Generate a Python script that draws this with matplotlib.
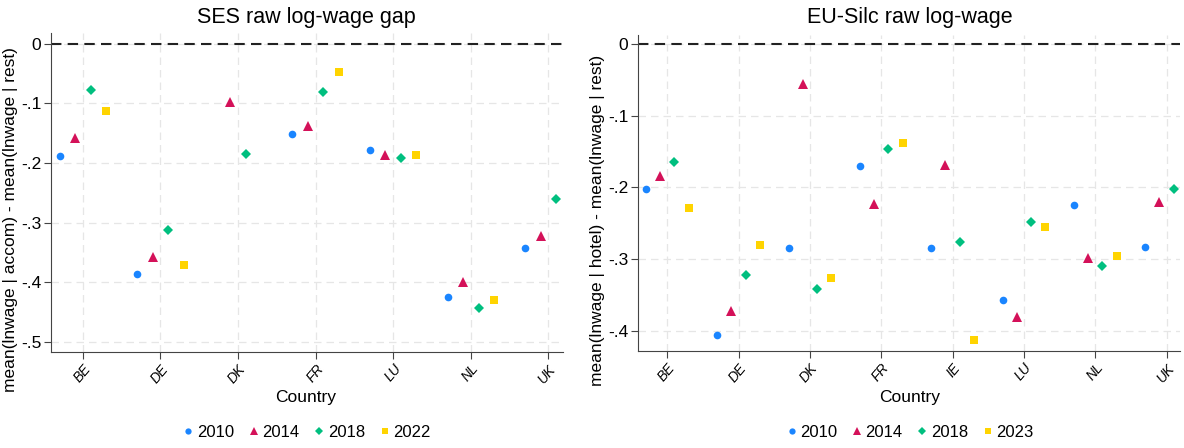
import numpy as np
import matplotlib.pyplot as plt
from matplotlib.lines import Line2D

plt.rcParams['font.family'] = ['Liberation Sans', 'DejaVu Sans']

# SES panel
ses_countries = ["BE", "DE", "DK", "FR", "LU", "NL", "UK"]
ses_years = ["2010", "2014", "2018", "2022"]
ses_2010 = [-0.188, -0.387, np.nan, -0.152, -0.179, -0.424, -0.343]
ses_2014 = [-0.158, -0.357, -0.098, -0.138, -0.186, -0.400, -0.323]
ses_2018 = [-0.077, -0.313, -0.185, -0.081, -0.191, -0.444, -0.261]
ses_2022 = [-0.113, -0.371, np.nan, -0.047, -0.187, -0.429, np.nan]

# EU-SILC panel
silc_countries = ["BE", "DE", "DK", "FR", "IE", "LU", "NL", "UK"]
silc_years = ["2010", "2014", "2018", "2023"]
silc_2010 = [-0.202, -0.405, -0.284, -0.170, -0.284, -0.357, -0.224, -0.283]
silc_2014 = [-0.184, -0.372, -0.056, -0.223, -0.168, -0.380, -0.298, -0.220]
silc_2018 = [-0.165, -0.322, -0.342, -0.147, -0.276, -0.248, -0.309, -0.202]
silc_2023 = [-0.228, -0.280, -0.326, -0.138, -0.413, -0.255, -0.296, np.nan]

colors = ["#1a85ff", "#d41159", "#00bf7f", "#ffd400"]
markers = ["o", "^", "D", "s"]
sizes = [5.5, 6.5, 5.5, 5.5]
offsets = [-0.3, -0.1, 0.1, 0.3]


def draw_panel(fig, ax, countries, series, years, title, ylabel, yticks, ylim,
               title_x, ylabel_x, legend_x):
    x = np.arange(len(countries))
    for v in x:
        ax.axvline(v, color="#e6e6e6", lw=0.9, ls=(0, (6, 4)), zorder=0)
    for t in yticks:
        ax.axhline(t, color="#e6e6e6", lw=0.9, ls=(0, (6, 4)), zorder=0)
    ax.axhline(0, color="#222222", lw=1.5, ls=(0, (5, 3)), zorder=1)
    for vals, c, m, s, off in zip(series, colors, markers, sizes, offsets):
        ax.plot(x + off, vals, ls="none", marker=m, color=c, ms=s,
                markeredgewidth=0, zorder=3)
    ax.set_xticks(x)
    ax.set_xticklabels(countries, rotation=50, ha="right", rotation_mode="anchor",
                       fontsize=10, fontstyle="italic")
    ax.set_yticks(yticks)
    ax.set_yticklabels(["0" if t == 0 else ("-" + ("%.1f" % abs(t))[1:]) for t in yticks],
                       fontsize=12.5)
    ax.set_xlim(-0.41, len(countries) - 1 + 0.19)
    ax.set_ylim(*ylim)
    ax.spines["top"].set_visible(False)
    ax.spines["right"].set_visible(False)
    ax.spines["left"].set_color("#444444")
    ax.spines["bottom"].set_color("#444444")
    ax.tick_params(axis="both", colors="#444444", labelcolor="black", length=5)
    ax.tick_params(axis="y", pad=2)
    ax.tick_params(axis="x", pad=2)

    fig.text(title_x, 1 - 17 / 448, title, fontsize=15.5, ha="center", va="center")
    fig.text(title_x, 1 - 397 / 448, "Country", fontsize=12.5, ha="center", va="center")
    fig.text(ylabel_x, 1 - 220 / 448, ylabel, fontsize=12.5, rotation=90,
             ha="center", va="center")
    handles = [Line2D([], [], ls="none", marker=m, color=c, ms=s - 1, markeredgewidth=0)
               for c, m, s in zip(colors, markers, sizes)]
    fig.legend(handles, years, loc="center", bbox_to_anchor=(legend_x, 1 - 432 / 448),
               ncol=4, frameon=False, fontsize=12, handletextpad=0.2,
               columnspacing=0.9, handlelength=0.6, borderpad=0)


fig = plt.figure(figsize=(11.84, 4.48), dpi=100)
ax1 = fig.add_axes([0.0431, 0.2143, 0.4325, 0.712])
ax2 = fig.add_axes([0.5389, 0.2165, 0.4578, 0.706])

draw_panel(fig, ax1, ses_countries, [ses_2010, ses_2014, ses_2018, ses_2022], ses_years,
           "SES raw log-wage gap", "mean(lnwage | accom) - mean(lnwage | rest)",
           [0, -0.1, -0.2, -0.3, -0.4, -0.5], (-0.517, 0.018),
           306 / 1184, 11 / 1184, 307 / 1184)
draw_panel(fig, ax2, silc_countries, [silc_2010, silc_2014, silc_2018, silc_2023], silc_years,
           "EU-Silc raw log-wage", "mean(lnwage | hotel) - mean(lnwage | rest)",
           [0, -0.1, -0.2, -0.3, -0.4], (-0.428, 0.013),
           910 / 1184, 597 / 1184, 910 / 1184)

fig.savefig("out.png", dpi=100)
